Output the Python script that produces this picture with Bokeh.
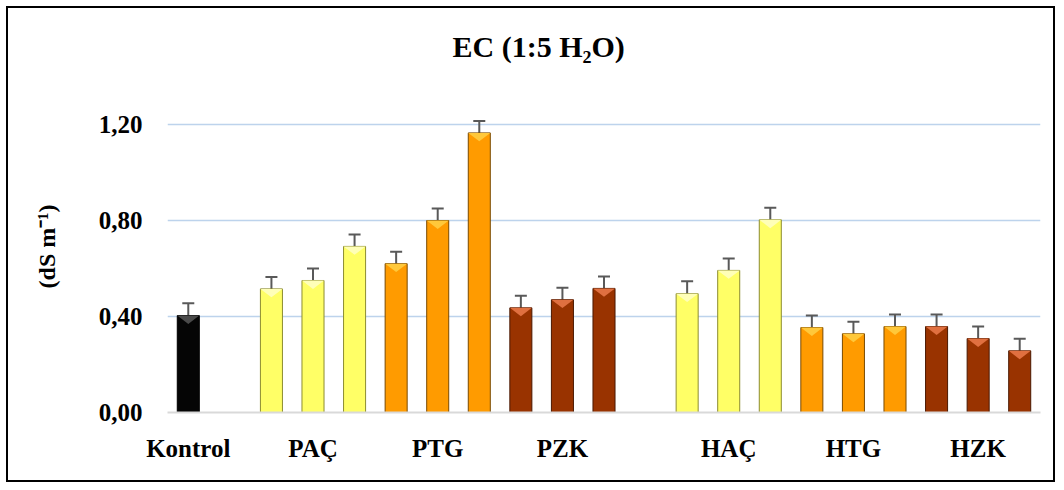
from bokeh.plotting import figure
from bokeh.models import (Range1d, FixedTicker, CustomJSTickFormatter, Whisker,
                          ColumnDataSource, TeeHead, Title)
from bokeh.embed import file_html
from bokeh.resources import INLINE

# ---- data -------------------------------------------------------------
groups = ["Kontrol", "PAÇ", "PTG", "PZK", "HAÇ", "HTG", "HZK"]
kontrol = [0.404]
pac = [0.515, 0.55, 0.692]
ptg = [0.62, 0.80, 1.165]
pzk = [0.436, 0.47, 0.517]
hac = [0.495, 0.592, 0.803]
htg = [0.354, 0.328, 0.358]
hzk = [0.358, 0.308, 0.257]
kontrol_err = [0.051]
pac_err = [0.05, 0.05, 0.05]
ptg_err = [0.05, 0.05, 0.05]
pzk_err = [0.05, 0.05, 0.05]
hac_err = [0.052, 0.05, 0.05]
htg_err = [0.05, 0.05, 0.05]
hzk_err = [0.05, 0.05, 0.05]
y_ticks = [0.0, 0.4, 0.8, 1.2]
title_text = "EC (1:5 H\u2082O)"
y_label = "(dS m\u207b\u00b9)"

values = {"Kontrol": kontrol, "PAÇ": pac, "PTG": ptg, "PZK": pzk,
          "HAÇ": hac, "HTG": htg, "HZK": hzk}
errors = {"Kontrol": kontrol_err, "PAÇ": pac_err, "PTG": ptg_err, "PZK": pzk_err,
          "HAÇ": hac_err, "HTG": htg_err, "HZK": hzk_err}
# styles: (fill, edge, top-bevel)
styles = {
    "Kontrol": ("#050505", "#000000", "#4a4a4a"),
    "PAÇ": ("#FFFF66", "#8C8C30", "#FFFFB8"),
    "HAÇ": ("#FFFF66", "#8C8C30", "#FFFFB8"),
    "PTG": ("#FF9B00", "#7A4A00", "#FFC83A"),
    "HTG": ("#FF9B00", "#7A4A00", "#FFC83A"),
    "PZK": ("#993300", "#4A1800", "#E07040"),
    "HZK": ("#993300", "#4A1800", "#E07040"),
}
blocks = [["Kontrol"], ["PAÇ", "PTG", "PZK"], ["HAÇ", "HTG", "HZK"]]

# ---- build positions ---------------------------------------------------
xs, tops, ups, lows, fills, edges = [], [], [], [], [], []
tri_x, tri_y, tri_c = [], [], []
label_pos = {}
bar_w = 0.53
bevel = 0.035
pos = 0
for bi, block in enumerate(blocks):
    if bi > 0:
        pos += 1
    for g in block:
        start = pos
        for v, e in zip(values[g], errors[g]):
            f, ed, tc = styles[g]
            xs.append(pos); tops.append(v); ups.append(v + e); lows.append(v - e)
            fills.append(f); edges.append(ed)
            tri_x.append([pos - bar_w / 2, pos + bar_w / 2, pos])
            tri_y.append([v, v, v - bevel])
            tri_c.append(tc)
            pos += 1
        label_pos[(start + pos - 1) / 2] = g

src = ColumnDataSource(dict(x=xs, top=tops, upper=ups, lower=lows, fill=fills, edge=edges))

font = "Liberation Serif"
p = figure(width=1049, height=476, x_range=Range1d(-0.5, 20.5), y_range=Range1d(0, 1.3833),
           output_backend="svg", toolbar_location=None,
           min_border_left=159, min_border_right=17, min_border_top=72, min_border_bottom=72)
p.outline_line_color = None
p.background_fill_color = "white"
p.border_fill_color = "white"
p.styles = {"border": "2px solid #000000", "margin-left": "6px", "margin-top": "6px"}

p.add_layout(Title(text=title_text, align="left", offset=285, standoff=36,
                   text_font=font, text_font_style="bold", text_font_size="30px",
                   text_color="#000000"), "above")

p.xgrid.visible = False
p.ygrid.ticker = FixedTicker(ticks=y_ticks[1:])
p.ygrid.grid_line_color = "#BDD3EC"
p.ygrid.grid_line_width = 1.5

yax = p.yaxis[0]
yax.ticker = FixedTicker(ticks=y_ticks)
yax.formatter = CustomJSTickFormatter(code="return tick.toFixed(2).replace('.', ',')")
yax.axis_line_color = None
yax.major_tick_line_color = None
yax.minor_tick_line_color = None
yax.major_label_text_font = font
yax.major_label_text_font_style = "bold"
yax.major_label_text_font_size = "25px"
yax.major_label_text_color = "#000000"
yax.major_label_standoff = 19
yax.axis_label = y_label
yax.axis_label_text_font = font
yax.axis_label_text_font_style = "bold"
yax.axis_label_text_font_size = "24px"
yax.axis_label_text_color = "#000000"
yax.axis_label_standoff = 36

xax = p.xaxis[0]
xax.ticker = FixedTicker(ticks=list(label_pos.keys()))
xax.major_label_overrides = label_pos
xax.axis_line_color = "#D9D9D9"
xax.axis_line_width = 2
xax.major_tick_line_color = None
xax.minor_tick_line_color = None
xax.major_label_text_font = font
xax.major_label_text_font_style = "bold"
xax.major_label_text_font_size = "25px"
xax.major_label_text_color = "#000000"
xax.major_label_standoff = 16

p.vbar(x="x", top="top", width=bar_w, fill_color="fill", line_color="edge",
       line_width=1, source=src)
p.patches(tri_x, tri_y, fill_color=tri_c, line_color=None)

head = dict(size=12, line_color="#595959", line_width=2)
p.add_layout(Whisker(source=src, base="x", upper="upper", lower="lower",
                     line_color="#595959", line_width=2,
                     upper_head=TeeHead(**head), lower_head=TeeHead(**head)))

open("out.html", "w").write(file_html(p, INLINE))
